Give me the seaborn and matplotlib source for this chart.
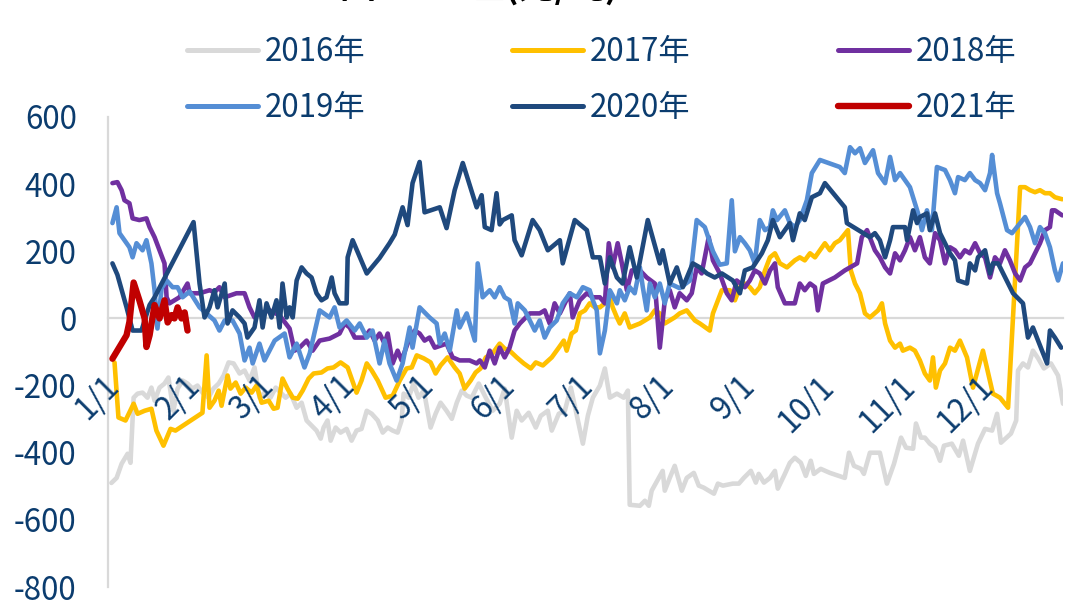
import pandas as pd
import seaborn as sns
import matplotlib.pyplot as plt
import matplotlib.transforms as mtransforms
from matplotlib.lines import Line2D

sns.set_style("white")
plt.rcParams["font.family"] = ["Noto Sans CJK SC", "DejaVu Sans"]
plt.rcParams["axes.unicode_minus"] = False

# day of year (0 = 1/1) and basis value (元/吨)
days_2016 = [1.3, 3.3, 5.2, 7.5, 8.6, 9.8, 11.3, 13.2, 15.1, 16.6, 17.8, 19.7, 21.6, 23.1, 25.0, 26.6, 28.5, 30.4,
             32.3, 34.2, 36.1, 38.4, 40.3, 42.3, 44.2, 46.1, 48.0, 50.3, 52.2, 54.1, 56.0, 57.9, 59.8, 62.1, 64.1,
             66.0, 67.9, 69.8, 72.1, 74.0, 75.9, 77.8, 79.7, 81.3, 82.4, 83.9, 85.1, 87.0, 88.9, 91.2, 93.1, 95.0,
             96.9, 98.9, 100.8, 103.1, 105.0, 106.9, 108.8, 110.7, 112.2, 113.0, 114.9, 116.8, 118.7, 120.7, 123.3,
             125.2, 127.1, 129.4, 131.4, 133.3, 135.2, 137.1, 139.0, 141.7, 144.4, 147.0, 149.7, 151.6, 154.3,
             156.2, 158.1, 160.8, 163.5, 165.4, 168.1, 169.6, 172.3, 174.6, 176.9, 178.8, 181.5, 183.4, 185.3,
             188.0, 189.9, 191.8, 194.5, 197.1, 198.7, 199.4, 203.3, 205.2, 206.7, 207.8, 210.5, 212.0, 212.8,
             214.7, 216.6, 219.3, 221.2, 223.9, 225.8, 227.7, 229.6, 231.6, 233.1, 235.0, 238.8, 241.1, 243.0,
             245.7, 247.6, 248.7, 250.7, 253.0, 254.9, 256.0, 258.7, 260.6, 262.5, 264.8, 266.7, 268.6, 269.8,
             272.4, 275.9, 281.6, 283.2, 285.1, 287.8, 288.9, 291.2, 295.0, 297.7, 300.4, 303.1, 305.0, 307.7,
             308.8, 310.7, 312.2, 314.1, 316.1, 318.0, 319.5, 322.5, 325.2, 326.8, 329.4, 332.5, 335.2, 337.9,
             339.8, 341.3, 345.1, 347.1, 347.8, 349.7, 351.6, 353.5, 355.5, 357.7, 360.4, 363.1, 365.0]
vals_2016 = [-490, -475, -433, -403, -430, -236, -224, -221, -236, -206, -245, -206, -194, -176, -275, -209, -185, -194,
             -209, -200, -221, -236, -209, -194, -170, -131, -134, -164, -155, -185, -146, -236, -221, -236, -206,
             -221, -236, -224, -266, -251, -304, -319, -334, -358, -325, -304, -364, -325, -340, -329, -364, -334,
             -329, -275, -284, -304, -340, -325, -334, -340, -304, -224, -236, -194, -236, -215, -325,
             -284, -251, -275, -299, -251, -215, -230, -236, -194, -236, -275, -254, -209, -355,
             -275, -304, -281, -325, -290, -275, -334, -284, -275, -206, -275, -373, -290, -236,
             -200, -149, -236, -224, -236, -215, -555, -558, -543, -558, -513, -475, -454, -513,
             -475, -439, -513, -475, -460, -498, -504, -513, -522, -492, -498, -492, -492, -475,
             -454, -489, -463, -489, -475, -454, -507, -463, -430, -415, -430, -469, -424, -463,
             -448, -460, -475, -400, -439, -448, -463, -400, -400, -492, -433, -355, -385, -388,
             -313, -355, -355, -373, -385, -424, -379, -373, -409, -364, -454, -373, -329, -334,
             -284, -370, -343, -304, -155, -134, -146, -96, -119, -149, -134, -170, -254]

days_2017 = [2.5, 4.0, 6.7, 9.8, 11.3, 14.0, 16.6, 18.5, 21.2, 23.9, 25.8, 36.1, 37.7, 38.8, 40.7, 42.3, 43.4, 45.7,
             46.8, 48.8, 50.7, 52.6, 54.9, 56.8, 58.7, 61.4, 63.3, 64.8, 66.7, 68.6, 70.6, 72.5, 74.4, 76.7, 78.6,
             81.6, 83.9, 86.2, 88.9, 91.6, 95.0, 96.9, 98.9, 100.8, 103.1, 106.1, 108.8, 111.5, 114.1, 116.1,
             118.0, 120.7, 123.3, 125.2, 127.1, 129.8, 132.5, 134.4, 136.3, 138.6, 140.5, 142.4, 144.4, 147.0,
             149.7, 151.6, 153.5, 156.2, 158.9, 161.6, 163.5, 166.2, 169.6, 172.3, 174.2, 175.3, 177.2, 178.8,
             180.3, 182.3, 184.1, 186.1, 188.0, 189.9, 191.8, 192.9, 194.5, 195.6, 197.5, 199.4, 203.3, 205.2,
             207.1, 209.0, 210.9, 212.8, 214.7, 216.6, 218.5, 221.2, 224.3, 226.2, 230.0, 231.2, 234.6, 237.7,
             239.6, 241.5, 243.4, 245.3, 247.2, 249.1, 251.1, 253.0, 254.9, 256.8, 259.5, 262.5, 264.4, 266.3,
             268.3, 270.2, 272.1, 274.0, 275.9, 277.8, 279.7, 282.8, 283.9, 285.5, 287.4, 289.3, 291.2, 294.3,
             295.8, 297.0, 298.9, 300.8, 302.7, 303.8, 306.5, 308.4, 310.3, 312.2, 314.1, 315.3, 316.4, 318.0,
             319.9, 321.8, 323.7, 325.6, 328.3, 330.6, 334.4, 338.2, 340.9, 344.0, 348.6, 350.5, 352.4, 354.3,
             356.2, 358.1, 360.0, 361.9, 364.7]
vals_2017 = [-131, -295, -304, -254, -284, -275, -269, -334, -379, -329, -334, -281, -110, -266, -245, -215, -260, -170,
             -209, -191, -224, -206, -221, -200, -251, -245, -269, -266, -179, -209, -236, -239, -215, -179, -164,
             -161, -149, -146, -131, -146, -221, -185, -134, -155, -185, -236, -230, -185, -149, -146,
             -110, -119, -131, -164, -140, -116, -146, -164, -209, -185, -161, -149, -116, -104,
             -75, -90, -96, -116, -134, -149, -131, -140, -116, -87, -66, -96, -45, -36,
             15, 24, 45, 33, 33, 45, 63, 33, 3, -15, 15, -27, -15, -6,
             3, 24, 15, -15, -6, 3, 15, 24, -6, -15, -36, 15, 84, 84,
             54, 93, 104, 93, 75, 93, 143, 182, 194, 164, 152, 173, 182, 173,
             194, 182, 203, 224, 203, 224, 233, 263, 143, 104, 75, 15, 3, 24,
             45, -15, -66, -87, -75, -96, -87, -96, -125, -164, -185, -116, -206, -155,
             -134, -87, -96, -66, -116, -206, -96, -224, -236, -266, 391, 391, 382, 376,
             382, 373, 373, 361, 355]

days_2018 = [1.7, 3.6, 5.2, 6.3, 8.2, 9.4, 12.0, 14.7, 15.9, 17.8, 19.7, 21.6, 22.4, 23.5, 27.3, 30.4, 31.2, 35.0,
             38.8, 40.7, 42.6, 44.6, 49.1, 52.2, 54.1, 56.0, 57.9, 61.8, 65.6, 69.4, 71.3, 73.2, 75.9, 78.2, 80.9,
             84.7, 88.5, 90.4, 92.4, 94.3, 98.1, 100.0, 101.9, 103.8, 105.7, 106.9, 108.8, 110.7, 112.2, 114.5,
             117.2, 119.1, 121.0, 122.9, 124.9, 129.4, 131.7, 134.4, 138.2, 140.9, 142.1, 144.0, 145.9, 147.8,
             149.7, 151.6, 153.5, 155.4, 157.4, 161.2, 165.0, 166.9, 168.8, 170.7, 172.7, 176.5, 177.6, 180.3,
             183.0, 185.3, 188.0, 189.9, 191.4, 192.9, 194.8, 196.4, 198.3, 200.2, 203.3, 205.9, 209.0, 210.9,
             212.8, 214.7, 216.6, 218.5, 221.2, 223.1, 225.0, 226.9, 229.6, 231.2, 233.8, 236.5, 238.4, 240.3,
             243.4, 245.3, 247.2, 249.1, 251.1, 253.0, 254.9, 256.0, 258.7, 262.5, 264.4, 266.3, 268.3, 270.2,
             271.3, 273.2, 277.8, 281.6, 283.6, 286.3, 288.1, 290.1, 293.1, 295.0, 297.0, 298.9, 300.8, 302.7,
             304.6, 306.5, 308.4, 310.3, 312.2, 314.1, 316.1, 318.0, 319.9, 321.8, 323.7, 325.6, 327.5, 329.4,
             331.4, 333.3, 335.2, 337.1, 339.0, 340.9, 342.8, 344.7, 346.7, 348.6, 350.5, 352.4, 354.3, 356.2,
             358.1, 360.0, 360.8, 361.9, 364.7]
vals_2018 = [403, 406, 382, 352, 343, 298, 293, 298, 272, 242, 203, 164, 63, 45, 63, 104, 75, 75,
             84, 78, 93, 63, 75, 75, 33, 3, 15, 24, 9, -30, -96, -87, -66, -96, -66,
             -60, -45, -15, -27, -57, -57, -36, -66, -45, -75, -45, -134, -96, -125, -75,
             -36, -45, -66, -57, -87, -75, -116, -125, -125, -134, -125, -146, -96, -134,
             -87, -116, -87, -36, -15, 15, 15, 24, -15, 45, 15, 75, 3, 54,
             75, 63, 63, 45, 224, 152, 224, 164, 84, 143, 143, 122, 104, -87,
             54, 84, 33, 75, 54, 75, 152, 134, 242, 173, 134, 75, 54, 113,
             93, 113, 143, 134, 104, 143, 164, 93, 45, 45, 104, 84, 104, 93,
             24, 104, 122, 143, 152, 164, 242, 263, 203, 182, 152, 134, 194, 173,
             203, 242, 203, 242, 182, 164, 254, 233, 164, 212, 203, 182, 203, 194,
             224, 194, 182, 122, 182, 164, 203, 173, 134, 113, 152, 164, 194, 224,
             263, 272, 322, 322, 307]

days_2019 = [1.7, 3.3, 4.4, 8.2, 9.4, 10.9, 13.2, 14.7, 16.6, 17.8, 18.9, 20.5, 22.4, 24.7, 26.6, 28.5, 31.2, 35.0,
             40.7, 42.6, 44.6, 47.6, 50.3, 52.2, 54.1, 55.3, 57.9, 59.8, 63.7, 67.5, 69.4, 72.1, 75.1, 77.1, 80.9,
             84.7, 86.6, 88.5, 91.2, 94.3, 96.2, 98.9, 101.1, 103.8, 105.7, 107.6, 110.3, 112.6, 115.3, 116.4,
             119.1, 122.9, 125.6, 126.8, 128.7, 130.6, 133.3, 134.4, 137.1, 140.2, 141.3, 143.2, 145.9, 147.8,
             149.7, 151.6, 153.5, 155.4, 156.6, 159.3, 161.2, 163.1, 165.0, 166.9, 168.8, 171.5, 173.8, 176.5,
             179.2, 181.5, 184.1, 185.3, 186.8, 188.0, 189.9, 191.8, 194.5, 195.6, 197.5, 199.4, 201.3, 203.3,
             204.4, 205.9, 207.1, 209.0, 210.9, 212.8, 214.7, 218.5, 222.4, 225.0, 228.1, 231.2, 233.8, 236.5,
             238.4, 239.6, 241.5, 243.4, 245.3, 247.2, 249.1, 251.1, 253.0, 254.1, 255.7, 258.7, 260.6, 262.5,
             264.4, 267.1, 269.0, 272.1, 279.7, 281.6, 283.6, 285.5, 287.4, 289.3, 292.4, 294.3, 297.0, 298.9,
             300.8, 302.7, 306.5, 309.6, 311.1, 313.0, 314.9, 316.8, 319.9, 321.8, 323.7, 324.9, 327.5, 329.4,
             331.4, 333.3, 335.2, 337.1, 337.9, 339.8, 340.9, 343.6, 345.5, 347.4, 350.5, 352.4, 354.3, 356.2,
             358.1, 360.0, 361.9, 363.1, 365.0]
vals_2019 = [284, 331, 254, 212, 182, 224, 203, 233, 164, 84, -30, 90, 113, 93, 93, 63, 80, 33,
             -6, -36, -6, -6, -45, -125, -87, -134, -75, -125, -66, -45, -116, -75, -146, -104, 24,
             3, 33, -27, -6, -36, -15, -57, -36, -134, -66, -134, -185, -134, -27, -87,
             33, 3, -15, -75, -45, -96, 24, -27, 15, -66, 164, 63, 84, 63,
             93, 63, 54, -15, 45, 24, -6, -36, -6, -57, -27, -6, 45, 75,
             63, 93, 84, 54, 24, -104, -36, 84, 45, 84, 54, 93, 75, 152,
             93, 24, 104, 63, 104, 45, 104, 90, 113, 293, 272, 200, 160, 164,
             352, 200, 242, 224, 203, 164, 293, 263, 272, 322, 293, 322, 284, 272,
             293, 352, 433, 472, 451, 433, 510, 492, 507, 463, 501, 433, 403, 481,
             412, 433, 391, 313, 263, 322, 263, 451, 442, 412, 373, 421, 412, 433,
             412, 403, 382, 433, 487, 373, 343, 263, 254, 272, 302, 272, 224, 272,
             254, 212, 143, 113, 164]

days_2020 = [1.7, 3.6, 7.1, 9.4, 12.8, 15.9, 17.8, 32.7, 35.0, 36.9, 38.8, 40.7, 41.9, 44.6, 45.7, 47.6, 50.3, 52.2,
             53.3, 56.0, 57.9, 59.1, 60.6, 62.5, 64.4, 65.6, 66.7, 68.3, 69.4, 70.6, 72.1, 74.0, 75.9, 77.8, 79.7,
             81.6, 83.5, 85.5, 86.6, 88.5, 91.2, 91.6, 93.5, 98.9, 103.8, 107.6, 109.6, 112.6, 114.5, 116.4, 119.1,
             121.0, 126.8, 129.4, 132.5, 135.6, 140.9, 142.8, 144.0, 146.6, 148.5, 149.7, 150.9, 154.3, 155.4,
             158.1, 162.3, 165.0, 168.1, 172.7, 173.8, 178.4, 183.0, 185.3, 188.0, 189.9, 191.8, 194.5, 196.7,
             199.4, 202.1, 206.3, 210.9, 212.0, 214.7, 217.4, 219.7, 223.5, 226.2, 228.9, 231.9, 234.6, 238.8,
             241.5, 243.4, 246.4, 249.9, 252.2, 254.1, 256.8, 260.6, 261.8, 264.4, 266.3, 269.0, 272.1, 274.0,
             281.6, 282.4, 291.2, 293.1, 295.0, 297.0, 298.9, 300.0, 304.6, 305.4, 307.7, 309.2, 310.3, 313.0,
             314.1, 316.1, 318.0, 319.9, 321.8, 323.7, 324.9, 328.3, 329.4, 331.4, 332.5, 335.2, 337.1, 338.2,
             340.2, 345.9, 349.7, 351.6, 353.5, 358.9, 360.0, 361.9, 364.3]
vals_2020 = [164, 130, 33, -36, -36, 40, 63, 287, 104, 3, 33, 84, 33, 104, -15, 24, 3, -15,
             -57, -27, 54, -27, 45, 3, 54, -27, 104, 3, 33, 3, 113, 152, 134, 122, 75,
             54, 63, 122, 75, 45, 45, 182, 233, 134, 180, 224, 250, 331, 278, 403, 466,
             316, 331, 269, 382, 463, 331, 367, 272, 263, 373, 280, 293, 307, 233,
             188, 293, 263, 203, 233, 164, 293, 263, 182, 182, 104, 182, 122, 104,
             212, 122, 293, 164, 203, 104, 152, 93, 164, 152, 134, 122, 134, 113,
             75, 143, 152, 194, 233, 293, 242, 284, 233, 313, 293, 361, 373, 403,
             331, 284, 242, 254, 233, 182, 233, 272, 272, 233, 322, 284, 302, 313,
             263, 313, 254, 224, 194, 173, 113, 104, 164, 143, 182, 203, 134, 164,
             164, 75, 45, -57, -27, -134, -36, -57, -87]

days_2021 = [1.7, 4.4, 7.1, 8.2, 9.8, 12.0, 14.0, 14.7, 15.9, 17.8, 19.7, 21.6, 22.8, 24.3, 25.4, 26.6, 28.1, 29.3, 30.4]
vals_2021 = [-120, -85, -50, -10, 107, 54, 0, -85, -50, 40, 0, 54, -12, 10, 0, 33, 0, 18, -36]

years = ["2016年", "2017年", "2018年", "2019年", "2020年", "2021年"]
colors = ["#D9D9D9", "#FFC000", "#7030A0", "#558ED5", "#1F497D", "#C00000"]
widths = [3.3, 3.3, 3.3, 3.3, 3.3, 4.6]
all_days = [days_2016, days_2017, days_2018, days_2019, days_2020, days_2021]
all_vals = [vals_2016, vals_2017, vals_2018, vals_2019, vals_2020, vals_2021]

month_starts = [0, 31, 59, 90, 120, 151, 181, 212, 243, 273, 304, 334]
month_labels = [f"{m}/1" for m in range(1, 13)]

navy = "#0B3C6E"
axis_grey = "#D9D9D9"
fs = 22.5

fig = plt.figure(figsize=(10.66, 6.04), dpi=100)
ax = fig.add_axes([0.1013, 0.0281, 0.8959, 0.7782])

for year, d, v, c, lw in zip(years, all_days, all_vals, colors, widths):
    df = pd.DataFrame({"day": d, "basis": v})
    sns.lineplot(data=df, x="day", y="basis", ax=ax, color=c, linewidth=lw,
                 estimator=None, sort=False, legend=False, solid_joinstyle="round")

ax.set_xlim(0, 365)
ax.set_ylim(-800, 600)
ax.set_yticks(range(-800, 601, 200))
ax.set_xticks(month_starts + [365])
ax.set_xticklabels(month_labels + [""])
ax.set_xlabel("")
ax.set_ylabel("")

for side in ["top", "right"]:
    ax.spines[side].set_visible(False)
for side in ["left", "bottom"]:
    ax.spines[side].set_color(axis_grey)
    ax.spines[side].set_linewidth(1.6)
    ax.spines[side].set_zorder(1)
ax.spines["bottom"].set_position(("data", 0))

ax.set_axisbelow(False)
ax.tick_params(axis="y", direction="out", length=6.5, width=1.6, color=axis_grey,
               labelsize=fs, labelcolor=navy, pad=16)
ax.tick_params(axis="x", direction="out", length=6.5, width=1.6, color=axis_grey,
               labelsize=fs, labelcolor=navy, pad=30)
shift = mtransforms.ScaledTranslation(6 / 100, -12 / 100, fig.dpi_scale_trans)
for lab in ax.get_xticklabels():
    lab.set_rotation(45)
    lab.set_ha("right")
    lab.set_va("center")
    lab.set_rotation_mode("anchor")
    lab.set_transform(lab.get_transform() + shift)

# legend: row-major order in 3 columns
handles = [Line2D([], [], color=c, linewidth=(4.6 if y == "2021年" else 3.6), solid_capstyle="round")
           for y, c in zip(years, colors)]
order = [0, 3, 1, 4, 2, 5]
fig.legend([handles[i] for i in order], [years[i] for i in order], ncol=3,
           loc="upper left", bbox_to_anchor=(0.1754, 0.94), frameon=False,
           fontsize=fs, labelcolor=navy, handlelength=2.27, handletextpad=0.22,
           columnspacing=4.7, labelspacing=0.75, borderpad=0, borderaxespad=0)

# title, mostly cropped off by the top edge
fig.text(0.449, 1 + 1 / 604, "图1：基差(元/吨)", ha="center", va="baseline",
         fontsize=26, fontweight="bold", color="black")

fig.savefig("out.png", dpi=100)
plt.close(fig)
